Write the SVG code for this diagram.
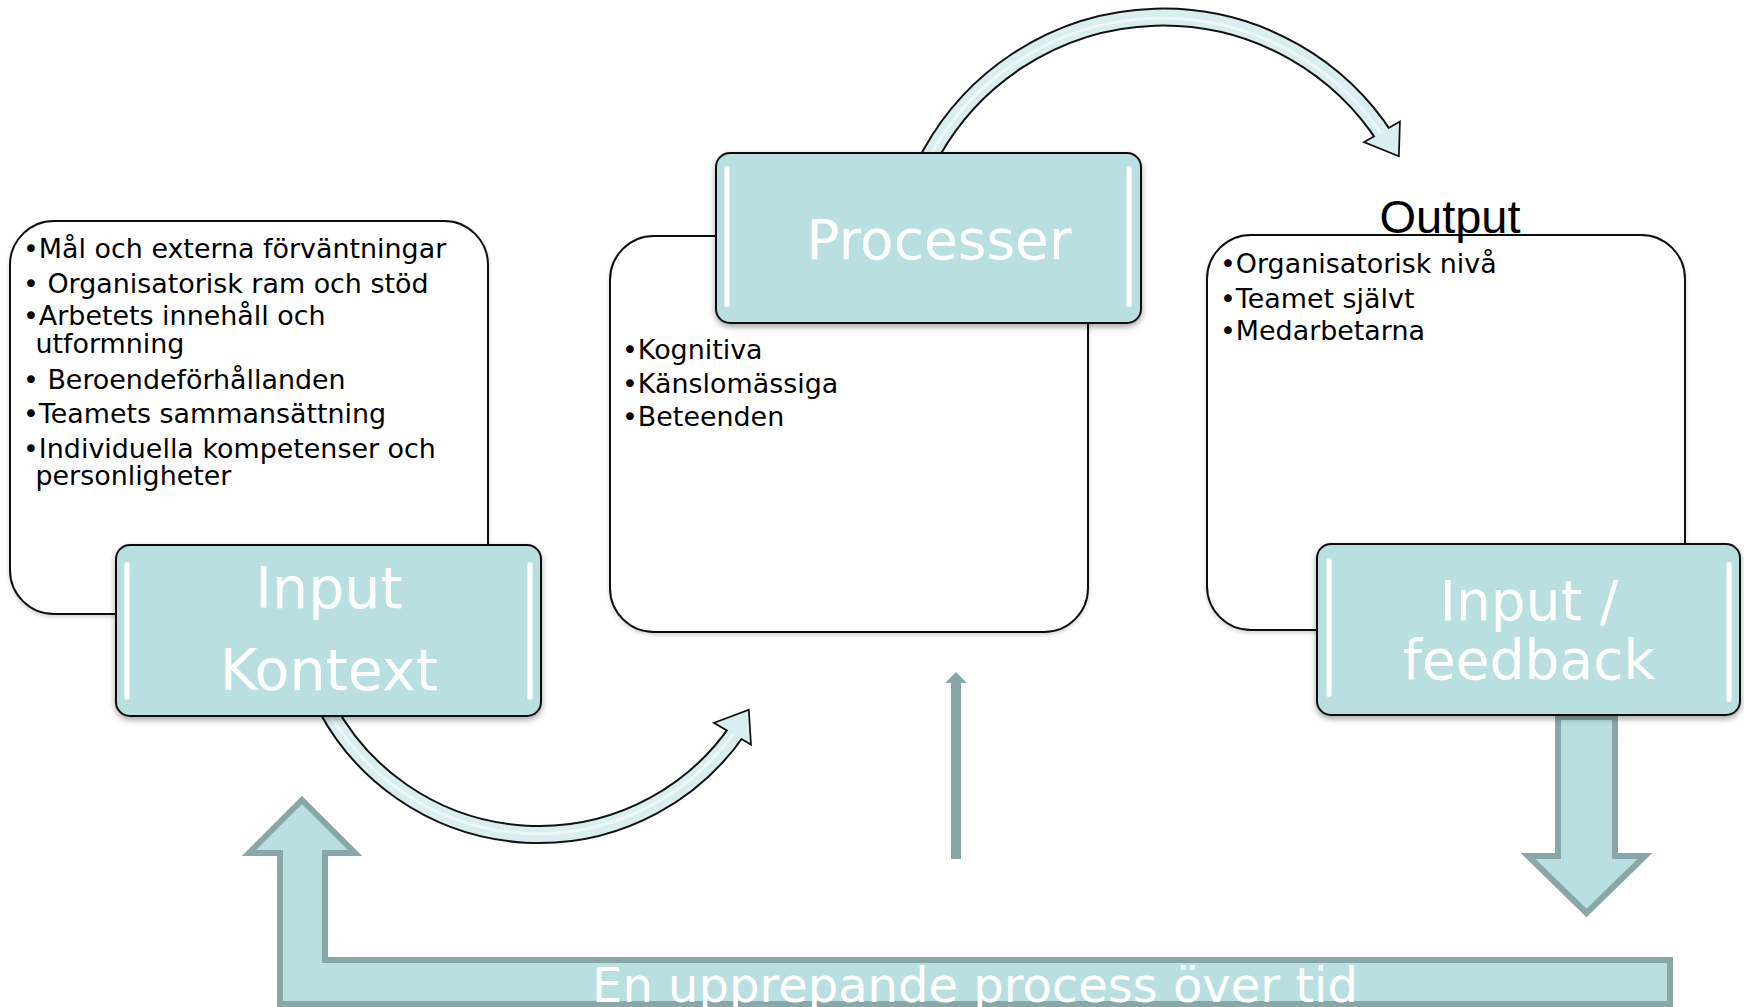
<svg xmlns="http://www.w3.org/2000/svg" width="1744" height="1007" viewBox="0 0 1744 1007">
  <defs>
    <style>
      .panel { fill: #ffffff; stroke: #111111; stroke-width: 2; }
      .tab { fill: #badfe1; stroke: #111111; stroke-width: 2; }
      .gloss { fill: #ffffff; stroke: #dff3f5; stroke-width: 1; }
      .item { font-family: "DejaVu Sans", Verdana, sans-serif; font-size: 26.9px; fill: #000000; }
      .title { font-family: "DejaVu Sans", Verdana, sans-serif; font-size: 55px; fill: #ffffff; text-anchor: middle; }
      .title-lg { font-size: 57px; }
      .loop-label { font-family: "DejaVu Sans", Verdana, sans-serif; font-size: 48px; fill: #ffffff; text-anchor: middle; }
      .heading { font-family: "Liberation Sans", Arial, sans-serif; font-size: 47px; fill: #000000; text-anchor: middle; }
      .band-edge { fill: none; stroke: #111111; stroke-width: 19; }
      .band-fill { fill: none; stroke: #d9eef0; stroke-width: 15; }
      .band-shine { fill: none; stroke: #ffffff; stroke-width: 3; opacity: 0.55; }
      .head-edge { fill: #d9eef0; stroke: #111111; stroke-width: 3.5; stroke-linejoin: miter; }
      .head-fill { fill: #d9eef0; stroke: none; }
      .block { fill: #badfe1; stroke: #89a7a8; stroke-width: 6; stroke-linejoin: miter; }
    </style>
    <filter id="shadow" x="-10%" y="-10%" width="120%" height="135%">
      <feGaussianBlur in="SourceAlpha" stdDeviation="3"/>
      <feOffset dy="3" result="blur"/>
      <feComponentTransfer><feFuncA type="linear" slope="0.35"/></feComponentTransfer>
      <feMerge><feMergeNode/><feMergeNode in="SourceGraphic"/></feMerge>
    </filter>
    <filter id="soft" x="-5%" y="-5%" width="110%" height="115%">
      <feGaussianBlur in="SourceAlpha" stdDeviation="2"/>
      <feOffset dy="2"/>
      <feComponentTransfer><feFuncA type="linear" slope="0.18"/></feComponentTransfer>
      <feMerge><feMergeNode/><feMergeNode in="SourceGraphic"/></feMerge>
    </filter>
  </defs>

  <rect width="1744" height="1007" fill="#ffffff"/>

  <g id="connectors">
    <!-- curved arrow: Processer over to Output -->
    <g id="arc-top">
      <polygon class="head-edge" points="1399,123 1398,155 1366,142"/>
      <path class="band-edge" d="M 926.6 161.7 L 931.5 153 A 265 265 0 0 1 1386 139"/>
      <path class="band-fill" d="M 926.6 161.7 L 931.5 153 A 265 265 0 0 1 1386 139"/>
      <path class="band-shine" d="M 931.5 153 A 265 265 0 0 1 1384 138"/>
      <polygon class="head-fill" points="1399,123 1398,155 1366,142"/>
    </g>
    <!-- curved arrow: Input Kontext under to Processer -->
    <g id="arc-bottom">
      <polygon class="head-edge" points="748,711 750,743 716,723"/>
      <path class="band-edge" d="M 326.3 706.7 A 240.9 240.9 0 0 0 738 729.4"/>
      <path class="band-fill" d="M 326.3 706.7 A 240.9 240.9 0 0 0 738 729.4"/>
      <path class="band-shine" d="M 331 716 A 240.9 240.9 0 0 0 736 730"/>
      <polygon class="head-fill" points="748,711 750,743 716,723"/>
    </g>
    <!-- thin upward arrow under Processer panel -->
    <polygon id="arrow-up-thin" fill="#89a7a8" points="956,672 967,683 961,683 961,859 951,859 951,683 945,683"/>
    <!-- block arrow down from Input / feedback -->
    <path id="arrow-down" class="block" d="M 1558 717 L 1615 717 L 1615 856 L 1645 856 L 1586.5 913 L 1528 856 L 1558 856 Z"/>
    <!-- return loop back to Input Kontext -->
    <g id="loop">
      <path class="block" d="M 302 800 L 355 853 L 325 853 L 325 960 L 1670 960 L 1670 1004 L 280 1004 L 280 853 L 249 853 Z"/>
      <text class="loop-label" x="975" y="1002">En upprepande process över tid</text>
    </g>
  </g>

  <g id="node-input">
    <rect class="panel" filter="url(#soft)" x="10" y="221" width="478" height="393" rx="44"/>
    <text class="item" x="23" y="258">•Mål och externa förväntningar</text>
    <text class="item" x="23" y="293">• Organisatorisk ram och stöd</text>
    <text class="item" x="23" y="325">•Arbetets innehåll och</text>
    <text class="item" x="35.5" y="353">utformning</text>
    <text class="item" x="23" y="389">• Beroendeförhållanden</text>
    <text class="item" x="23" y="423">•Teamets sammansättning</text>
    <text class="item" x="23" y="458">•Individuella kompetenser och</text>
    <text class="item" x="35.5" y="485">personligheter</text>
    <g id="tab-input">
      <rect class="tab" filter="url(#shadow)" x="116" y="545" width="425" height="171" rx="14"/>
      <rect class="gloss" x="124.5" y="562" width="5" height="138" rx="2.5"/>
      <rect class="gloss" x="527.5" y="562" width="5" height="138" rx="2.5"/>
      <text class="title title-lg" x="329" y="608">Input</text>
      <text class="title title-lg" x="329" y="690">Kontext</text>
    </g>
  </g>

  <g id="node-process">
    <rect class="panel" filter="url(#soft)" x="610" y="236" width="478" height="396" rx="44"/>
    <text class="item" x="622" y="359">•Kognitiva</text>
    <text class="item" x="622" y="393">•Känslomässiga</text>
    <text class="item" x="622" y="426">•Beteenden</text>
    <g id="tab-process">
      <rect class="tab" filter="url(#shadow)" x="716" y="153" width="425" height="170" rx="14"/>
      <rect class="gloss" x="724.5" y="166" width="5" height="141" rx="2.5"/>
      <rect class="gloss" x="1126.5" y="166" width="5" height="141" rx="2.5"/>
      <text class="title" x="939" y="259">Processer</text>
    </g>
  </g>

  <g id="node-output">
    <rect class="panel" filter="url(#soft)" x="1207" y="235" width="478" height="395" rx="44"/>
    <text class="heading" x="1450" y="233">Output</text>
    <text class="item" x="1220" y="273">•Organisatorisk nivå</text>
    <text class="item" x="1220" y="308">•Teamet självt</text>
    <text class="item" x="1220" y="340">•Medarbetarna</text>
    <g id="tab-feedback">
      <rect class="tab" filter="url(#shadow)" x="1317" y="544" width="423" height="171" rx="14"/>
      <rect class="gloss" x="1326.5" y="558" width="5" height="139" rx="2.5"/>
      <rect class="gloss" x="1726.5" y="562" width="5" height="140" rx="2.5"/>
      <text class="title" x="1529" y="620">Input /</text>
      <text class="title" x="1529" y="679">feedback</text>
    </g>
  </g>
</svg>
